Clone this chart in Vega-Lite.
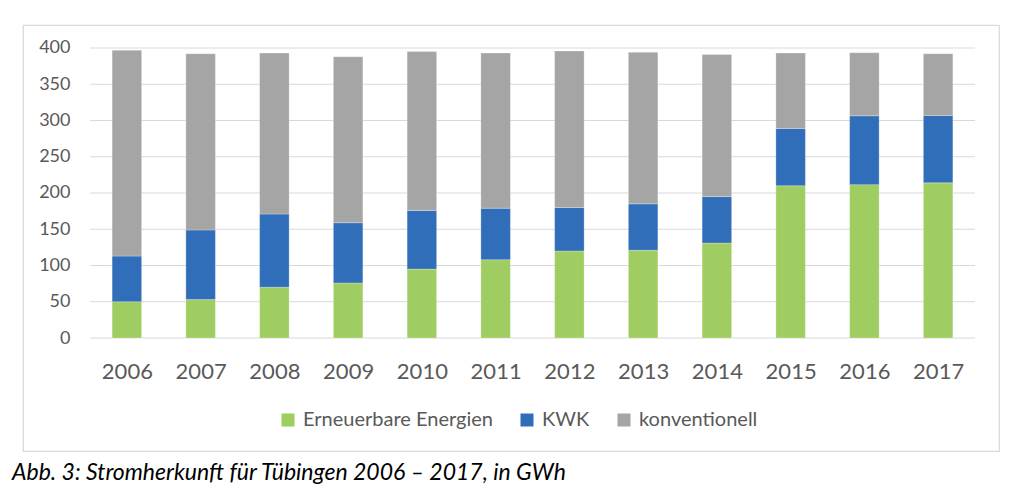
{
  "$schema": "https://vega.github.io/schema/vega-lite/v6.json",
  "width": 976,
  "height": 426,
  "autosize": "none",
  "padding": {"left": 23, "top": 25, "right": 25, "bottom": 37},
  "background": "white",
  "config": {
    "font": "Lato",
    "view": {"stroke": "#D9D9D9", "strokeWidth": 1.2}
  },
  "title": {
    "text": "Abb. 3: Stromherkunft für Tübingen 2006 – 2017, in GWh",
    "orient": "bottom",
    "anchor": "start",
    "frame": "group",
    "dx": -11,
    "offset": 11,
    "font": "Lato",
    "fontSize": 23,
    "fontStyle": "italic",
    "fontWeight": "normal",
    "color": "black"
  },
  "layer": [
    {
      "data": {
        "values": [
          {"tick": 0}, {"tick": 50}, {"tick": 100}, {"tick": 150}, {"tick": 200},
          {"tick": 250}, {"tick": 300}, {"tick": 350}, {"tick": 400}
        ]
      },
      "mark": {"type": "rule", "color": "#D9D9D9", "strokeWidth": 1.2},
      "encoding": {
        "x": {"datum": 2005.5, "type": "quantitative"},
        "x2": {"datum": 2017.5},
        "y": {"field": "tick", "type": "quantitative"}
      }
    },
    {
      "data": {
        "values": [
          {"year": 2006, "source": "Erneuerbare Energien", "rank": 1, "value": 50},
          {"year": 2006, "source": "KWK", "rank": 2, "value": 63},
          {"year": 2006, "source": "konventionell", "rank": 3, "value": 284},
          {"year": 2007, "source": "Erneuerbare Energien", "rank": 1, "value": 53},
          {"year": 2007, "source": "KWK", "rank": 2, "value": 96},
          {"year": 2007, "source": "konventionell", "rank": 3, "value": 243},
          {"year": 2008, "source": "Erneuerbare Energien", "rank": 1, "value": 70},
          {"year": 2008, "source": "KWK", "rank": 2, "value": 101},
          {"year": 2008, "source": "konventionell", "rank": 3, "value": 222},
          {"year": 2009, "source": "Erneuerbare Energien", "rank": 1, "value": 76},
          {"year": 2009, "source": "KWK", "rank": 2, "value": 83},
          {"year": 2009, "source": "konventionell", "rank": 3, "value": 229},
          {"year": 2010, "source": "Erneuerbare Energien", "rank": 1, "value": 95},
          {"year": 2010, "source": "KWK", "rank": 2, "value": 81},
          {"year": 2010, "source": "konventionell", "rank": 3, "value": 219},
          {"year": 2011, "source": "Erneuerbare Energien", "rank": 1, "value": 108},
          {"year": 2011, "source": "KWK", "rank": 2, "value": 71},
          {"year": 2011, "source": "konventionell", "rank": 3, "value": 214},
          {"year": 2012, "source": "Erneuerbare Energien", "rank": 1, "value": 120},
          {"year": 2012, "source": "KWK", "rank": 2, "value": 60},
          {"year": 2012, "source": "konventionell", "rank": 3, "value": 216},
          {"year": 2013, "source": "Erneuerbare Energien", "rank": 1, "value": 121},
          {"year": 2013, "source": "KWK", "rank": 2, "value": 64},
          {"year": 2013, "source": "konventionell", "rank": 3, "value": 209},
          {"year": 2014, "source": "Erneuerbare Energien", "rank": 1, "value": 131},
          {"year": 2014, "source": "KWK", "rank": 2, "value": 64},
          {"year": 2014, "source": "konventionell", "rank": 3, "value": 196},
          {"year": 2015, "source": "Erneuerbare Energien", "rank": 1, "value": 210},
          {"year": 2015, "source": "KWK", "rank": 2, "value": 79},
          {"year": 2015, "source": "konventionell", "rank": 3, "value": 104},
          {"year": 2016, "source": "Erneuerbare Energien", "rank": 1, "value": 211.5},
          {"year": 2016, "source": "KWK", "rank": 2, "value": 95},
          {"year": 2016, "source": "konventionell", "rank": 3, "value": 87},
          {"year": 2017, "source": "Erneuerbare Energien", "rank": 1, "value": 214},
          {"year": 2017, "source": "KWK", "rank": 2, "value": 93},
          {"year": 2017, "source": "konventionell", "rank": 3, "value": 85}
        ]
      },
      "mark": {"type": "bar", "size": 29.5, "stroke": "white", "strokeWidth": 0.5, "strokeOpacity": 0.5},
      "encoding": {
        "x": {
          "field": "year",
          "type": "quantitative",
          "title": null,
          "scale": {"domain": [2004.5915, 2017.8254], "nice": false, "zero": false, "padding": 0},
          "axis": {
            "values": [2006, 2007, 2008, 2009, 2010, 2011, 2012, 2013, 2014, 2015, 2016, 2017],
            "format": "d",
            "offset": -113,
            "labelFontSize": 22,
            "labelColor": "#595959",
            "labelBaseline": "middle",
            "labelPadding": 33,
            "labelFlush": false,
            "labelOverlap": false,
            "ticks": false,
            "tickSize": 0,
            "domain": false,
            "grid": false
          }
        },
        "y": {
          "field": "value",
          "type": "quantitative",
          "stack": "zero",
          "title": null,
          "scale": {"domain": [-155.86, 431.72], "nice": false, "zero": false, "padding": 0},
          "axis": {
            "values": [0, 50, 100, 150, 200, 250, 300, 350, 400],
            "offset": -67,
            "labelFontSize": 18,
            "labelColor": "#595959",
            "labelPadding": 20,
            "labelFlush": false,
            "ticks": false,
            "tickSize": 0,
            "domain": false,
            "grid": false
          }
        },
        "color": {
          "field": "source",
          "type": "nominal",
          "scale": {
            "domain": ["Erneuerbare Energien", "KWK", "konventionell"],
            "range": ["#9FCD62", "#306EBA", "#A5A5A5"]
          },
          "legend": {
            "title": null,
            "orient": "none",
            "direction": "horizontal",
            "legendX": 255,
            "legendY": 385,
            "symbolType": "square",
            "symbolSize": 169,
            "symbolStrokeWidth": 0,
            "labelFontSize": 20,
            "labelLimit": 0,
            "labelColor": "#595959",
            "labelOffset": 5,
            "columnPadding": 24
          }
        },
        "order": {"field": "rank", "type": "quantitative", "sort": "ascending"}
      }
    }
  ]
}
